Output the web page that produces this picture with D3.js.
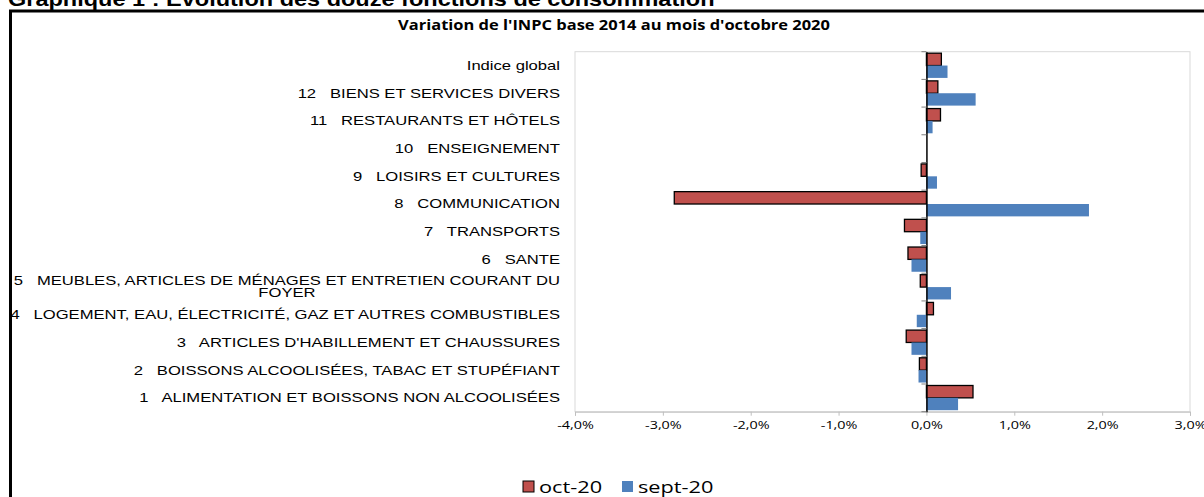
<!DOCTYPE html>
<html>
<head>
<meta charset="utf-8">
<script src="https://cdn.jsdelivr.net/npm/d3@7"></script>
<style>
  body { margin: 0; background: #fff; }
  svg { display: block; }
</style>
</head>
<body>
<script>
// categories, top to bottom
const categories = [
  "Indice global",
  "12   BIENS ET SERVICES DIVERS",
  "11   RESTAURANTS ET HÔTELS",
  "10   ENSEIGNEMENT",
  "9   LOISIRS ET CULTURES",
  "8   COMMUNICATION",
  "7   TRANSPORTS",
  "6   SANTE",
  "5   MEUBLES, ARTICLES DE MÉNAGES ET ENTRETIEN COURANT DU|FOYER",
  "4   LOGEMENT, EAU, ÉLECTRICITÉ, GAZ ET AUTRES COMBUSTIBLES",
  "3   ARTICLES D'HABILLEMENT ET CHAUSSURES",
  "2   BOISSONS ALCOOLISÉES, TABAC ET STUPÉFIANT",
  "1   ALIMENTATION ET BOISSONS NON ALCOOLISÉES"
];
// variation in %
const oct20 = [0.17, 0.13, 0.16, 0, -0.06, -2.87, -0.25, -0.21, -0.07, 0.08, -0.23, -0.08, 0.53];
const sept20 = [0.24, 0.56, 0.07, 0, 0.12, 1.85, -0.07, -0.17, 0.28, -0.11, -0.17, -0.09, 0.36];
const seriesNames = ["oct-20", "sept-20"];
const xTicks = [-4, -3, -2, -1, 0, 1, 2, 3];

const width = 1204, height = 497;
const colors = { "oct-20": "#C0504D", "sept-20": "#4F81BD" };

const svg = d3.select("body").append("svg")
  .attr("width", width)
  .attr("height", height);

// the source picture is stretched sideways, so texts get a horizontal scale
const stretch = (sx, tx, ty) => `translate(${tx},${ty}) scale(${sx},1)`;

// outer frame + page title (cut at the top)
svg.append("text")
  .attr("transform", stretch(1.12, 8, 6))
  .style("font-family", "'Liberation Sans', Arial, sans-serif")
  .style("font-weight", "bold")
  .style("font-size", "21px")
  .text("Graphique 1 : Évolution des douze fonctions de consommation");

svg.append("path")
  .attr("d", "M10.5,520 V11 H1210")
  .attr("fill", "none")
  .attr("stroke", "#000")
  .attr("stroke-width", 3);

svg.append("text")
  .attr("transform", stretch(1.22, 614, 30))
  .attr("text-anchor", "middle")
  .style("font-family", "'Open Sans', sans-serif")
  .style("font-weight", "bold")
  .style("font-size", "13.5px")
  .text("Variation de l'INPC base 2014 au mois d'octobre 2020");

const plot = { left: 575, right: 1190, top: 51.7, bottom: 411.7 };

const x = d3.scaleLinear().domain([-4, 3]).range([plot.left, plot.right]);
const y = d3.scaleBand().domain(categories).range([plot.top, plot.bottom]).paddingInner(0).paddingOuter(0);
const ySub = d3.scaleBand().domain(seriesNames).range([0, y.bandwidth()]).paddingOuter(0.12).paddingInner(0);

// plot area border
svg.append("rect")
  .attr("x", plot.left).attr("y", plot.top)
  .attr("width", plot.right - plot.left).attr("height", plot.bottom - plot.top)
  .attr("fill", "none").attr("stroke", "#d9d9d9").attr("stroke-width", 1);

// bottom axis
const xAxis = d3.axisBottom(x)
  .tickValues(xTicks)
  .tickSize(4)
  .tickFormat(d => d3.format(".1f")(d).replace(".", ",").replace("−", "-") + "%");

const gx = svg.append("g")
  .attr("transform", `translate(0,${plot.bottom})`)
  .call(xAxis);
gx.select(".domain").attr("stroke", "#bfbfbf");
gx.selectAll(".tick line").attr("stroke", "#bfbfbf");
gx.selectAll(".tick text")
  .attr("y", 0)
  .attr("dy", 0)
  .attr("transform", "translate(0,17) scale(1.25,1)")
  .attr("fill", "#000")
  .style("font-family", "'Open Sans', sans-serif")
  .style("font-size", "11.5px");

// bars
const rows = categories.map((c, i) => ({ cat: c, "oct-20": oct20[i], "sept-20": sept20[i] }));

const gRow = svg.append("g").selectAll("g")
  .data(rows).enter().append("g")
  .attr("transform", d => `translate(0,${y(d.cat)})`);

gRow.selectAll("rect")
  .data(d => seriesNames.map(s => ({ s, v: d[s] })).filter(e => e.v !== 0))
  .enter().append("rect")
  .attr("x", d => x(Math.min(0, d.v)))
  .attr("width", d => Math.abs(x(d.v) - x(0)))
  .attr("y", d => ySub(d.s))
  .attr("height", ySub.bandwidth())
  .attr("fill", d => colors[d.s])
  .attr("stroke", d => d.s === "oct-20" ? "#000" : "none")
  .attr("stroke-width", 1.3);

// vertical category axis at zero
const yAxis = d3.axisLeft(y).tickSize(0).tickFormat("");
const gy = svg.append("g")
  .attr("transform", `translate(${x(0)},0)`)
  .call(yAxis);
gy.select(".domain").attr("stroke", "#000").attr("stroke-width", 1.5);
gy.selectAll(".tick").remove();

// category tick marks at band edges
const edges = categories.map(c => y(c)).concat([plot.bottom]);
svg.append("g").selectAll("line")
  .data(edges).enter().append("line")
  .attr("x1", x(0) - 5).attr("x2", x(0))
  .attr("y1", d => d).attr("y2", d => d)
  .attr("stroke", "#808080").attr("stroke-width", 1);

// category labels
const labels = svg.append("g")
  .style("font-family", "'Liberation Sans', Arial, sans-serif")
  .style("font-size", "12.5px")
  .attr("fill", "#000");

const labelSx = 1.33;
categories.forEach(c => {
  const parts = c.split("|");
  const cy = y(c) + y.bandwidth() / 2;
  if (parts.length === 1) {
    labels.append("text")
      .attr("transform", stretch(labelSx, 560, cy))
      .attr("dy", "0.35em")
      .attr("text-anchor", "end")
      .style("white-space", "pre")
      .text(parts[0]);
  } else {
    const t1 = labels.append("text")
      .attr("transform", stretch(labelSx, 560, cy - 6))
      .attr("dy", "0.35em")
      .attr("text-anchor", "end")
      .style("white-space", "pre")
      .text(parts[0]);
    const w = t1.node().getComputedTextLength() * labelSx;
    labels.append("text")
      .attr("transform", stretch(labelSx, 560 - w / 2, cy + 6))
      .attr("dy", "0.35em")
      .attr("text-anchor", "middle")
      .text(parts[1]);
  }
});

// legend
const legend = svg.append("g").attr("transform", "translate(523,481)");
const li = legend.selectAll("g").data(seriesNames).enter().append("g")
  .attr("transform", (d, i) => `translate(${i * 99},0)`);
li.append("rect")
  .attr("width", 11).attr("height", 11)
  .attr("fill", d => colors[d])
  .attr("stroke", d => d === "oct-20" ? "#000" : "none")
  .attr("stroke-width", 1);
li.append("text")
  .attr("transform", stretch(1.36, 16, 11.5))
  .style("font-family", "'Open Sans', sans-serif")
  .style("font-size", "16px")
  .text(d => d);
</script>
</body>
</html>
